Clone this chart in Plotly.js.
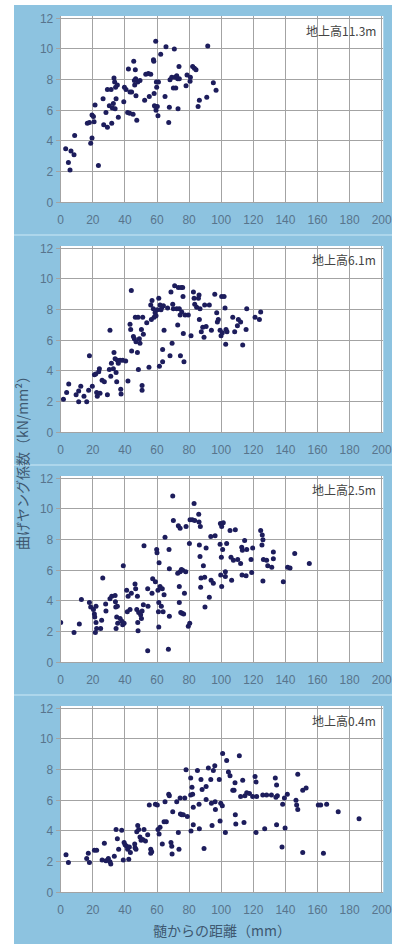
<!DOCTYPE html>
<html>
<head>
<meta charset="utf-8">
<script src="https://cdn.plot.ly/plotly-3.0.1.min.js"></script>
<style>
  html, body { margin: 0; padding: 0; background: #ffffff; }
  #chart { width: 397px; height: 944px; }
</style>
</head>
<body>
<div id="chart"></div>
<script>
// Panel labels (height above ground of each sampled disc)
const panelLabels = ['地上高11.3m', '地上高6.1m', '地上高2.5m', '地上高0.4m'];

// Tick values
const xTickVals = [0, 20, 40, 60, 80, 100, 120, 140, 160, 180, 200];
const yTickVals = [0, 2, 4, 6, 8, 10, 12];

// Axis titles
const yTitle = '曲げヤング係数（kN/mm²）';
const xTitle = '髄からの距離（mm）';

// 11.3 m: distance from pith (mm) / bending Young's modulus (kN/mm²)
const dist113 = [
  3.1, 4.8, 5.8, 6.4, 8.3, 8.7, 16.6, 17.9, 18.7, 19.5,
  19.5, 20.4, 20.8, 21.4, 23.5, 26.4, 26.8, 28.2, 29.1, 29.1,
  30.3, 31.4, 31.8, 32.2, 32.8, 33.2, 33.6, 33.9, 34.2, 34.5,
  35.3, 35.9, 39.3, 39.7, 40.7, 41.7, 42.2, 43.0, 43.2, 44.2,
  45.1, 45.5, 45.9, 46.1, 46.5, 46.7, 46.9, 47.4, 48.0, 49.4,
  52.3, 53.0, 54.6, 55.2, 56.1, 57.8, 58.0, 58.2, 58.4, 59.0,
  59.2, 59.4, 59.6, 59.8, 60.2, 60.6, 60.9, 62.3, 65.0, 65.6,
  67.3, 67.7, 68.1, 69.2, 70.2, 70.8, 71.2, 71.7, 72.3, 72.9,
  73.1, 73.7, 73.9, 78.1, 78.7, 80.6, 80.8, 82.2, 83.3, 84.3,
  85.6, 86.4, 91.0, 91.6, 95.1, 96.8
];
const moe113 = [
  3.5, 2.6, 2.1, 3.35, 3.1, 4.35, 5.15, 5.2, 3.85, 4.2,
  5.7, 5.6, 5.25, 6.35, 2.4, 6.75, 5.05, 5.85, 7.35, 4.9,
  6.3, 7.35, 5.15, 6.15, 6.45, 8.1, 7.85, 6.1, 7.5, 6.75,
  7.65, 5.55, 6.55, 7.5, 7.35, 5.85, 8.7, 5.8, 7.2, 7.2,
  5.75, 9.2, 7.95, 7.65, 8.65, 8.05, 6.95, 5.35, 7.85, 7.95,
  6.65, 8.35, 8.4, 6.9, 8.35, 9.3, 9.2, 7.1, 6.3, 6.25,
  10.5, 6.0, 7.85, 7.5, 6.25, 5.65, 7.85, 9.65, 6.9, 10.15,
  5.2, 6.2, 8.0, 8.15, 7.45, 10.0, 8.15, 7.45, 8.25, 8.05,
  6.1, 8.85, 8.05, 7.6, 8.3, 7.9, 8.15, 8.85, 8.75, 8.65,
  6.25, 6.65, 6.85, 10.2, 7.8, 7.3
];

// 6.1 m
const dist61 = [
  1.7, 3.7, 5.0, 9.6, 11.2, 11.2, 12.5, 14.5, 16.2, 17.4,
  17.9, 19.7, 21.0, 21.8, 22.4, 22.8, 23.7, 24.1, 24.5, 25.8,
  27.2, 29.1, 30.3, 30.7, 31.2, 31.6, 32.8, 33.2, 33.9, 34.5,
  34.9, 35.3, 35.9, 37.0, 37.4, 37.6, 38.6, 40.5, 41.9, 43.2,
  43.6, 44.0, 44.2, 45.3, 45.9, 46.5, 46.9, 47.8, 48.2, 48.4,
  49.0, 49.4, 50.3, 50.7, 50.7, 51.1, 51.5, 53.6, 55.0, 56.1,
  56.5, 56.9, 57.7, 58.2, 58.8, 59.4, 60.2, 61.1, 61.5, 61.9,
  62.5, 63.1, 63.5, 63.5, 64.0, 64.4, 66.6, 68.1, 68.7, 69.4,
  69.8, 70.2, 71.0, 72.3, 72.9, 73.3, 73.9, 74.4, 74.6, 75.0,
  75.4, 76.0, 76.2, 76.4, 76.8, 77.5, 79.5, 81.2, 82.7, 83.1,
  83.5, 84.7, 85.8, 86.2, 86.4, 86.8, 87.6, 88.5, 89.3, 89.7,
  90.6, 92.6, 93.9, 96.0, 97.2, 97.6, 98.2, 99.3, 99.9, 100.3,
  100.7, 101.8, 102.4, 102.8, 103.0, 103.6, 107.2, 108.4, 110.1, 110.7,
  112.1, 113.4, 115.5, 115.9, 121.1, 123.8, 124.6
];
const moe61 = [
  2.15, 2.6, 3.15, 2.45, 2.7, 2.0, 3.0, 2.35, 2.0, 2.75,
  5.0, 3.0, 3.75, 3.8, 2.6, 2.35, 3.95, 4.15, 2.55, 3.4,
  3.3, 2.45, 4.1, 6.65, 3.65, 4.5, 4.15, 5.2, 4.8, 3.9,
  3.3, 4.7, 4.5, 4.7, 2.8, 2.5, 4.7, 4.65, 3.35, 7.05,
  6.7, 9.25, 5.3, 6.25, 6.1, 7.5, 5.9, 5.2, 7.5, 4.1,
  6.1, 5.8, 6.7, 3.05, 2.75, 7.5, 6.4, 7.15, 4.25, 8.3,
  7.35, 8.6, 8.05, 7.5, 7.8, 7.6, 8.0, 8.75, 4.3, 8.3,
  8.0, 8.15, 5.4, 4.6, 8.25, 6.65, 8.1, 5.0, 9.15, 5.8,
  8.35, 8.05, 9.55, 8.05, 7.0, 9.45, 8.05, 7.65, 5.0, 9.45,
  7.85, 9.45, 8.85, 6.45, 4.6, 7.65, 7.65, 6.3, 9.15, 8.75,
  8.35, 8.15, 8.75, 8.95, 7.35, 8.05, 6.55, 6.85, 6.2, 8.3,
  6.9, 8.3, 6.65, 9.0, 7.8, 7.2, 7.35, 6.65, 6.3, 8.85,
  6.5, 8.85, 8.1, 5.75, 6.7, 6.55, 7.5, 6.55, 6.95, 7.35,
  7.2, 5.7, 6.7, 8.05, 7.5, 7.35, 7.85
];

// 2.5 m
const dist25 = [
  0.0, 8.3, 11.6, 12.9, 17.9, 18.7, 20.4, 21.0, 21.2, 21.6,
  22.0, 22.0, 22.4, 24.9, 25.5, 26.2, 28.0, 28.2, 30.7, 31.8,
  33.9, 34.1, 34.3, 34.5, 34.9, 35.3, 35.5, 37.0, 38.0, 38.6,
  39.0, 39.5, 41.1, 41.5, 42.0, 43.2, 44.0, 46.3, 46.7, 47.4,
  47.8, 48.0, 48.2, 48.6, 49.8, 50.3, 50.7, 51.5, 51.9, 54.2,
  54.4, 54.2, 56.9, 57.3, 59.0, 59.8, 60.0, 60.6, 60.9, 61.1,
  61.1, 61.3, 61.9, 62.7, 63.3, 63.8, 64.4, 65.0, 67.1, 67.5,
  67.7, 67.7, 69.8, 70.2, 72.9, 73.3, 73.9, 73.9, 74.4, 74.4,
  74.8, 75.2, 75.6, 76.0, 76.6, 77.1, 77.9, 78.1, 79.5, 80.2,
  80.4, 80.6, 82.0, 83.1, 83.5, 86.0, 86.2, 86.4, 86.8, 87.0,
  87.2, 87.4, 88.9, 89.7, 89.9, 90.6, 92.6, 93.5, 93.7, 95.1,
  96.2, 99.3, 99.5, 99.7, 100.1, 100.3, 100.3, 100.9, 101.3, 102.6,
  102.6, 103.4, 105.5, 106.1, 106.5, 107.6, 108.8, 110.3, 112.1, 112.8,
  113.0, 113.2, 114.6, 115.5, 115.9, 118.6, 119.0, 119.6, 124.6, 125.4,
  125.6, 126.0, 126.0, 126.3, 128.3, 129.0, 131.5, 132.5, 132.5, 138.7,
  141.4, 142.9, 145.8, 154.9
];
const moe25 = [
  2.6, 1.95, 2.5, 4.1, 3.9, 3.6, 3.45, 3.15, 2.95, 1.95,
  3.65, 2.6, 2.2, 2.2, 2.75, 5.5, 3.8, 3.35, 4.15, 4.3,
  4.35, 3.95, 3.6, 2.2, 2.95, 3.65, 2.55, 2.85, 2.7, 2.45,
  6.3, 2.55, 4.7, 3.3, 4.3, 3.45, 4.5, 5.1, 4.8, 3.45,
  4.3, 2.6, 2.05, 3.25, 3.1, 2.85, 3.35, 3.75, 7.6, 4.8,
  3.65, 0.75, 4.5, 5.45, 5.25, 7.35, 7.15, 4.7, 3.3, 3.9,
  2.3, 6.5, 4.95, 3.65, 4.8, 3.3, 4.4, 8.15, 0.85, 7.35,
  3.0, 6.1, 10.85, 9.25, 5.8, 8.9, 4.95, 3.9, 5.9, 8.75,
  3.25, 6.05, 3.2, 6.0, 3.15, 4.5, 5.9, 8.85, 2.35, 7.75,
  2.55, 9.3, 9.3, 10.35, 9.25, 9.65, 9.15, 7.65, 6.9, 8.85,
  4.9, 5.5, 6.3, 5.55, 3.6, 7.45, 4.25, 8.2, 5.35, 5.15,
  8.25, 7.7, 9.05, 5.7, 6.85, 4.95, 8.85, 7.35, 9.1, 5.9,
  5.6, 7.75, 8.6, 6.85, 5.35, 6.65, 8.65, 6.7, 6.45, 7.5,
  5.7, 7.3, 7.95, 5.65, 7.35, 6.7, 5.85, 7.45, 8.6, 7.65,
  8.3, 8.0, 5.3, 6.7, 6.65, 6.3, 6.2, 7.2, 6.75, 5.25,
  6.2, 6.15, 7.1, 6.45
];

// 0.4 m
const dist04 = [
  3.3, 4.8, 16.2, 17.2, 17.9, 21.0, 22.4, 25.8, 27.2, 28.2,
  29.7, 30.7, 31.2, 33.4, 34.5, 35.3, 36.1, 38.0, 39.0, 39.5,
  40.1, 41.1, 41.7, 42.4, 42.8, 43.4, 46.1, 46.3, 46.9, 47.4,
  48.0, 48.6, 49.4, 50.1, 51.1, 51.9, 52.8, 54.2, 55.2, 56.1,
  56.1, 56.7, 59.0, 60.2, 60.6, 61.3, 61.9, 63.3, 64.4, 65.0,
  65.8, 67.3, 67.7, 68.7, 69.2, 69.4, 69.8, 72.3, 73.3, 73.7,
  74.4, 74.6, 75.4, 76.4, 77.3, 78.1, 78.9, 81.0, 81.0, 81.2,
  81.8, 82.2, 82.6, 82.6, 85.2, 86.2, 86.4, 87.4, 88.1, 89.3,
  90.6, 90.6, 92.0, 93.5, 93.9, 94.3, 95.1, 96.0, 96.2, 96.4,
  98.8, 99.3, 99.7, 100.7, 100.9, 102.6, 103.4, 104.5, 105.5, 107.2,
  108.0, 108.6, 108.8, 109.1, 111.3, 112.1, 113.4, 114.2, 114.8, 115.9,
  117.6, 119.6, 121.1, 121.7, 121.7, 122.1, 125.9, 127.1, 128.3, 131.3,
  133.7, 134.1, 134.5, 134.5, 135.0, 137.9, 138.3, 139.4, 139.8, 141.2,
  146.6, 147.0, 147.7, 147.7, 150.8, 150.8, 152.9, 160.5, 162.0, 163.7,
  165.7, 172.9, 185.9
];
const moe04 = [
  2.45, 1.95, 2.2, 2.55, 1.95, 2.75, 2.75, 2.1, 3.2, 2.05,
  2.2, 2.0, 1.85, 2.35, 4.1, 3.5, 2.8, 4.05, 2.1, 3.25,
  3.1, 3.0, 2.8, 2.15, 2.95, 2.6, 3.15, 2.9, 2.8, 3.95,
  4.35, 4.1, 3.6, 3.4, 3.45, 4.1, 3.35, 3.75, 5.7, 2.8,
  2.55, 2.65, 5.75, 5.7, 4.1, 3.8, 4.25, 3.15, 4.6, 5.9,
  4.6, 6.4, 6.3, 3.25, 3.0, 2.5, 5.25, 5.9, 3.9, 2.8,
  6.15, 5.1, 5.05, 5.05, 6.15, 8.0, 4.95, 7.45, 6.35, 4.0,
  6.85, 6.4, 5.55, 4.4, 7.95, 5.75, 4.15, 7.35, 6.7, 2.85,
  6.9, 6.05, 8.1, 7.35, 5.8, 4.35, 7.95, 8.25, 5.9, 5.4,
  7.35, 4.65, 5.8, 5.65, 9.05, 3.9, 8.6, 7.85, 7.6, 6.65,
  6.65, 7.15, 5.05, 4.45, 8.9, 6.25, 7.3, 4.55, 6.3, 6.5,
  6.45, 6.25, 7.55, 7.2, 3.9, 6.25, 6.35, 4.15, 6.35, 6.35,
  7.45, 6.2, 7.0, 4.4, 6.3, 2.95, 5.75, 6.15, 4.2, 6.4,
  6.0, 5.7, 7.7, 5.4, 6.65, 2.6, 6.8, 5.7, 5.7, 2.55,
  5.75, 5.25, 4.8
];

const seriesX = [dist113, dist61, dist25, dist04];
const seriesY = [moe113, moe61, moe25, moe04];

// ---- page geometry (pixels) ----
const W = 397, H = 944;
const px = v => v / W;
const py = v => 1 - v / H;

const panelStep = 230;          // vertical spacing between stacked panels
const plotLeft = 60.7, plotRight = 383.3;
const plotTopFirst = 16, plotBottomFirst = 202.3;

const bgBlue = '#8dc3e0';
const gridGray = '#a3a3a3';
const tickColor = '#58748c';
const titleColor = '#3e5870';
const dotColor = '#1d1d5c';

const traces = [];
const layout = {
  width: W,
  height: H,
  margin: { l: 0, r: 0, t: 0, b: 0, pad: 0 },
  paper_bgcolor: bgBlue,
  plot_bgcolor: '#ffffff',
  showlegend: false,
  font: { family: 'Liberation Sans, Arial, sans-serif', size: 12, color: tickColor },
  annotations: [],
  shapes: []
};

for (let k = 0; k < 4; k++) {
  const suffix = k === 0 ? '' : String(k + 1);
  const off = k * panelStep;

  traces.push({
    type: 'scatter',
    mode: 'markers',
    x: seriesX[k],
    y: seriesY[k],
    xaxis: 'x' + suffix,
    yaxis: 'y' + suffix,
    marker: { size: 5, color: dotColor },
    hoverinfo: 'x+y'
  });

  layout['xaxis' + suffix] = {
    domain: [px(plotLeft), px(plotRight)],
    anchor: 'y' + suffix,
    range: [0, 201],
    tickmode: 'array',
    tickvals: xTickVals,
    showgrid: true,
    gridcolor: gridGray,
    gridwidth: 1,
    zeroline: false,
    showline: true,
    linecolor: gridGray,
    linewidth: 1,
    ticks: 'outside',
    ticklen: 6,
    tickcolor: 'rgba(0,0,0,0)',
    tickfont: { family: 'Liberation Sans, Arial, sans-serif', size: 12, color: tickColor },
    fixedrange: true
  };

  layout['yaxis' + suffix] = {
    domain: [py(plotBottomFirst + off), py(plotTopFirst + off)],
    anchor: 'x' + suffix,
    range: [0, 12.15],
    tickmode: 'array',
    tickvals: yTickVals,
    showgrid: true,
    gridcolor: gridGray,
    gridwidth: 1,
    zeroline: false,
    showline: true,
    linecolor: gridGray,
    linewidth: 1,
    ticks: 'outside',
    ticklen: 4,
    tickcolor: gridGray,
    tickfont: { family: 'Liberation Sans, Arial, sans-serif', size: 12, color: tickColor },
    fixedrange: true
  };

  // height label in the upper-right corner of each panel
  layout.annotations.push({
    xref: 'paper', yref: 'paper',
    x: px(378), y: py(30 + off),
    xanchor: 'right', yanchor: 'middle',
    text: panelLabels[k],
    showarrow: false,
    font: { family: 'Noto Sans CJK JP, sans-serif', size: 12, color: '#444444' }
  });

  // light seam between stacked panels
  if (k > 0) {
    layout.shapes.push({
      type: 'line', xref: 'paper', yref: 'paper', layer: 'below',
      x0: px(14), x1: px(392), y0: py(off + 5), y1: py(off + 5),
      line: { color: '#b9dcef', width: 1.5 }
    });
  }
}

// white page margins around the blue panel block
layout.shapes.push(
  { type: 'rect', xref: 'paper', yref: 'paper', layer: 'below',
    x0: 0, x1: px(14), y0: 0, y1: 1, fillcolor: '#ffffff', line: { width: 0 } },
  { type: 'rect', xref: 'paper', yref: 'paper', layer: 'below',
    x0: px(392), x1: 1, y0: 0, y1: 1, fillcolor: '#ffffff', line: { width: 0 } },
  { type: 'rect', xref: 'paper', yref: 'paper', layer: 'below',
    x0: 0, x1: 1, y0: py(5), y1: 1, fillcolor: '#ffffff', line: { width: 0 } }
);

// shared axis titles
layout.annotations.push(
  {
    xref: 'paper', yref: 'paper',
    x: px(22), y: py(460),
    xanchor: 'center', yanchor: 'middle',
    text: yTitle, textangle: -90, showarrow: false,
    font: { family: 'Noto Sans CJK JP, sans-serif', size: 14, color: titleColor }
  },
  {
    xref: 'paper', yref: 'paper',
    x: px(222), y: py(930),
    xanchor: 'center', yanchor: 'middle',
    text: xTitle, showarrow: false,
    font: { family: 'Noto Sans CJK JP, sans-serif', size: 14, color: titleColor }
  }
);

Plotly.newPlot('chart', traces, layout, { displayModeBar: false, staticPlot: true });
</script>
</body>
</html>
